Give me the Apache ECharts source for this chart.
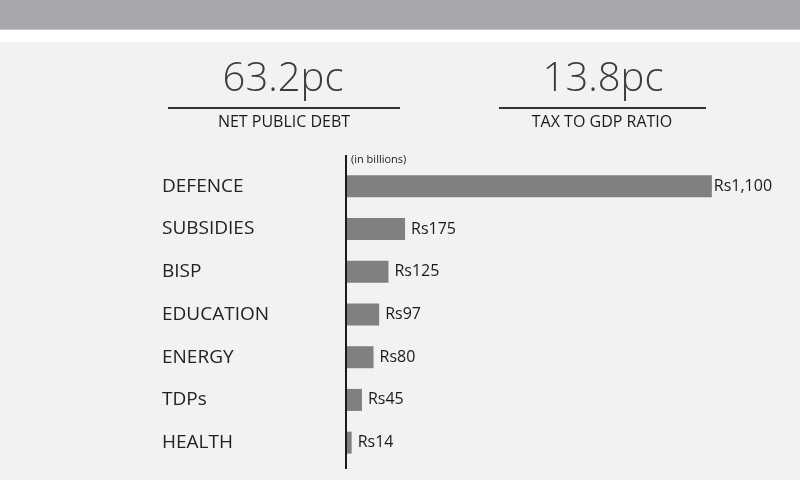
<!DOCTYPE html>
<html>
<head>
<meta charset="utf-8">
<script src="https://cdn.jsdelivr.net/npm/echarts@6/dist/echarts.min.js"></script>
<style>
html,body{margin:0;padding:0;background:#f2f2f2;}
#chart{width:800px;height:480px;}
</style>
</head>
<body>
<div id="chart"></div>
<script>
var categories = ['DEFENCE', 'SUBSIDIES', 'BISP', 'EDUCATION', 'ENERGY', 'TDPs', 'HEALTH'];
var values = [1100, 175, 125, 97, 80, 45, 14];
var valueLabels = ['Rs1,100', 'Rs175', 'Rs125', 'Rs97', 'Rs80', 'Rs45', 'Rs14'];
var stat1Value = '63.2pc', stat1Label = 'NET PUBLIC DEBT';
var stat2Value = '13.8pc', stat2Label = 'TAX TO GDP RATIO';
var unitNote = '(in billions)';

var FONT = '"Open Sans", "Noto Sans", sans-serif';
var chart = echarts.init(document.getElementById('chart'));

var barData = values.map(function (v, i) {
  return {
    value: v,
    label: { formatter: valueLabels[i], distance: i === 0 ? 2 : 6 }
  };
});

chart.setOption({
  backgroundColor: '#f2f2f2',
  animation: false,
  grid: { left: 347, right: 55, top: 165, bottom: 16, containLabel: false },
  xAxis: {
    type: 'value', min: 0, max: 1200, show: false
  },
  yAxis: {
    type: 'category', data: categories, inverse: true,
    axisLine: { show: false }, axisTick: { show: false }, splitLine: { show: false },
    axisLabel: {
      align: 'left', margin: 185, color: '#222', fontSize: 19, fontFamily: FONT
    }
  },
  series: [{
    type: 'bar', data: barData, barWidth: 22,
    itemStyle: { color: '#808082' },
    label: {
      show: true, position: 'right', color: '#1a1a1a', fontSize: 16, fontFamily: FONT
    }
  }],
  graphic: [
    { type: 'rect', shape: { x: 0, y: 0, width: 800, height: 29 }, style: { fill: '#a7a8ab' }, silent: true },
    { type: 'rect', shape: { x: 0, y: 29, width: 800, height: 1 }, style: { fill: '#c6c7c9' }, silent: true },
    { type: 'rect', shape: { x: 0, y: 30, width: 800, height: 12 }, style: { fill: '#ffffff' }, silent: true },
    { type: 'text', x: 283, y: 80, style: { text: stat1Value, fill: '#3c3c3c', font: '300 40px ' + FONT, align: 'center', verticalAlign: 'middle' } },
    { type: 'rect', shape: { x: 168, y: 107, width: 232, height: 2 }, style: { fill: '#333' } },
    { type: 'text', x: 284, y: 122, style: { text: stat1Label, fill: '#1a1a1a', font: '16px ' + FONT, align: 'center', verticalAlign: 'middle' } },
    { type: 'text', x: 603, y: 80, style: { text: stat2Value, fill: '#3c3c3c', font: '300 40px ' + FONT, align: 'center', verticalAlign: 'middle' } },
    { type: 'rect', shape: { x: 499, y: 107, width: 207, height: 2 }, style: { fill: '#333' } },
    { type: 'text', x: 602, y: 122, style: { text: stat2Label, fill: '#1a1a1a', font: '16px ' + FONT, align: 'center', verticalAlign: 'middle' } },
    { type: 'rect', shape: { x: 345, y: 155, width: 2, height: 314 }, style: { fill: '#1a1a1a' } },
    { type: 'text', x: 351, y: 160, style: { text: unitNote, fill: '#222', font: '11px ' + FONT, align: 'left', verticalAlign: 'middle' } }
  ]
});
</script>
</body>
</html>
